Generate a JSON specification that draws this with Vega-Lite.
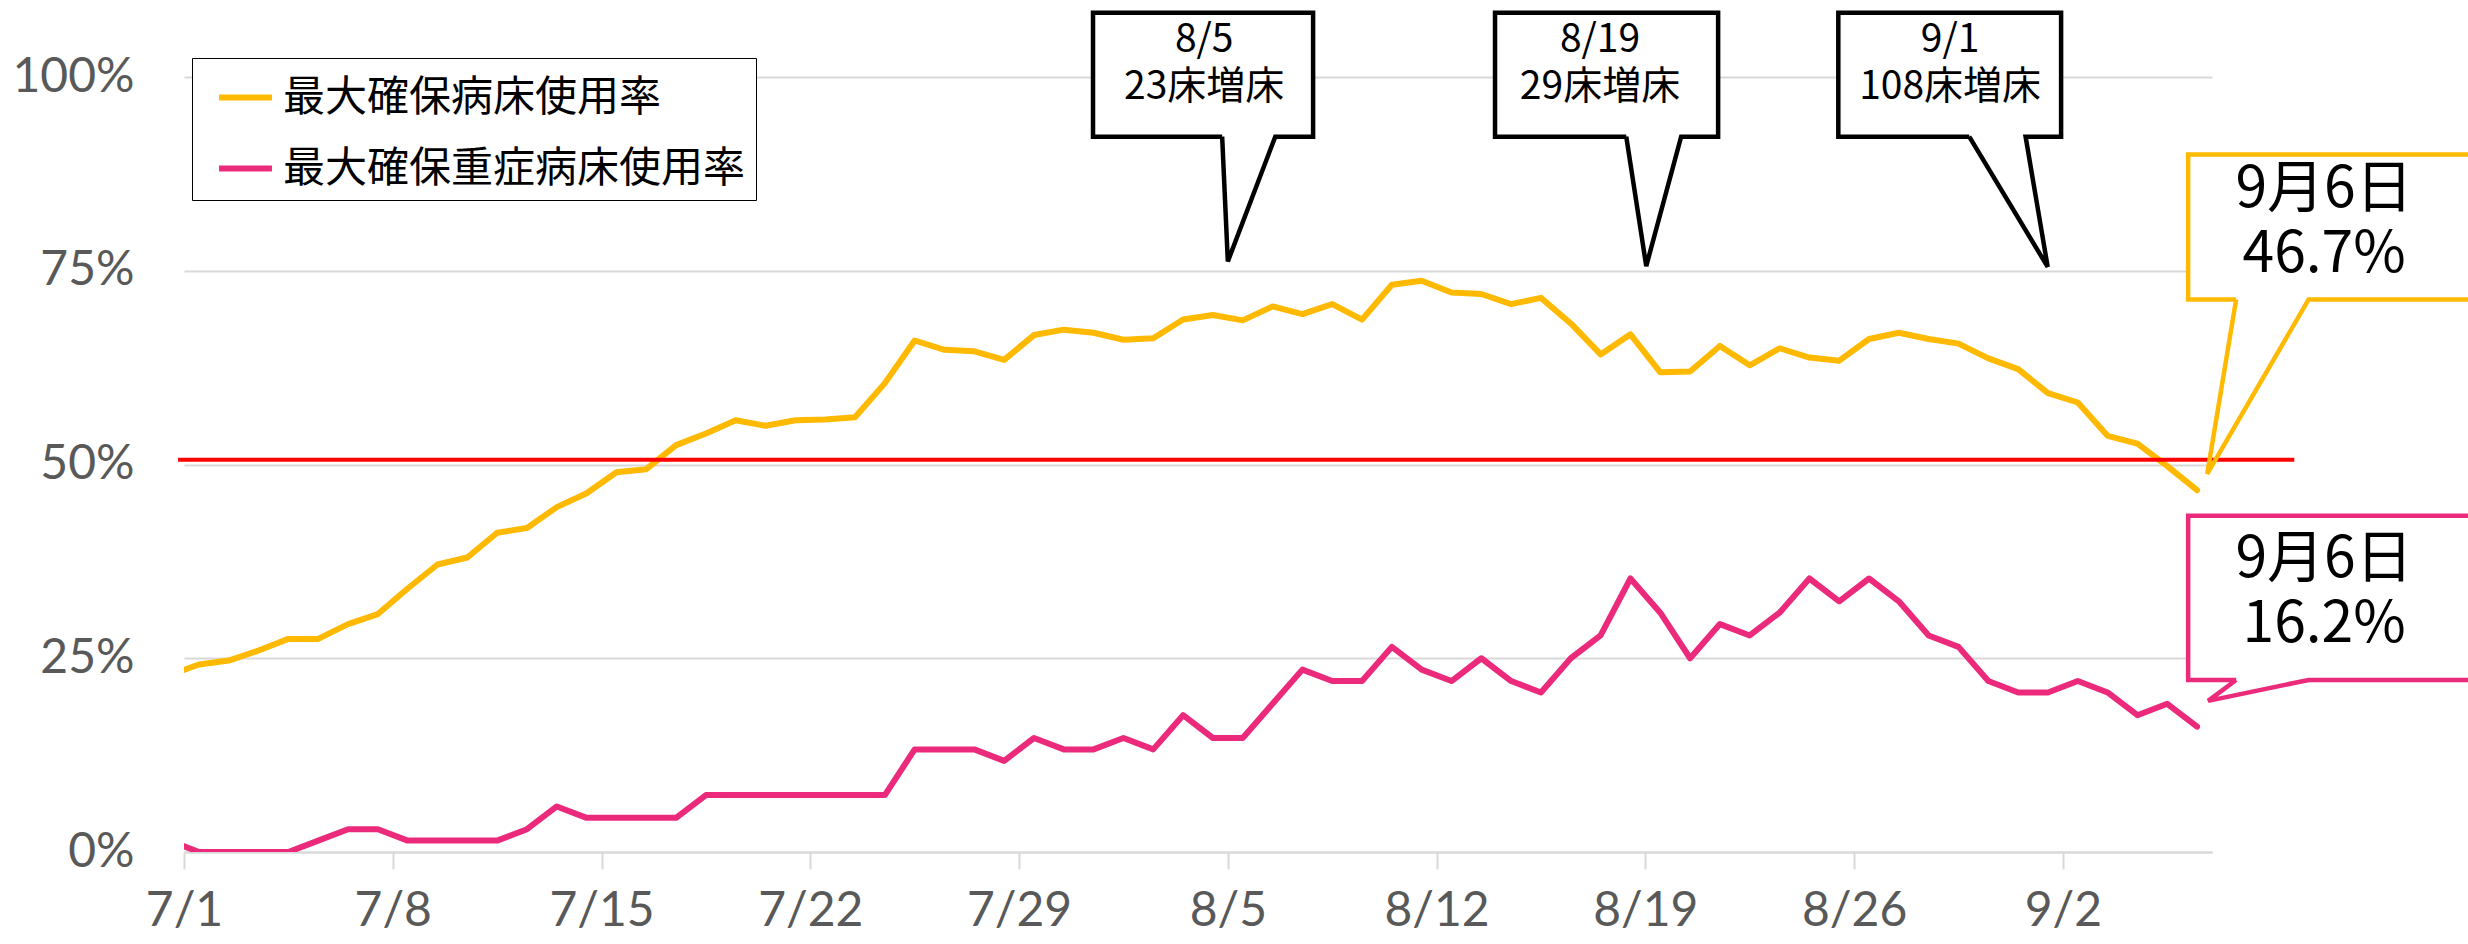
{
  "$schema": "https://vega.github.io/schema/vega-lite/v6.json",
  "width": 2028,
  "height": 775,
  "autosize": "none",
  "padding": {"left": 184, "top": 77, "right": 256, "bottom": 92},
  "background": "white",
  "config": {"view": {"stroke": null}, "font": "Lato"},
  "datasets": {
    "series": [
      {"date":"2021/06/30","a":22.8,"b":1.47},
      {"date":"2021/07/01","a":24.2,"b":0},
      {"date":"2021/07/02","a":24.7,"b":0},
      {"date":"2021/07/03","a":26.0,"b":0},
      {"date":"2021/07/04","a":27.5,"b":0},
      {"date":"2021/07/05","a":27.5,"b":1.47},
      {"date":"2021/07/06","a":29.4,"b":2.94},
      {"date":"2021/07/07","a":30.7,"b":2.94},
      {"date":"2021/07/08","a":34.0,"b":1.47},
      {"date":"2021/07/09","a":37.1,"b":1.47},
      {"date":"2021/07/10","a":38.0,"b":1.47},
      {"date":"2021/07/11","a":41.2,"b":1.47},
      {"date":"2021/07/12","a":41.8,"b":2.94},
      {"date":"2021/07/13","a":44.5,"b":5.88},
      {"date":"2021/07/14","a":46.3,"b":4.41},
      {"date":"2021/07/15","a":49.0,"b":4.41},
      {"date":"2021/07/16","a":49.4,"b":4.41},
      {"date":"2021/07/17","a":52.5,"b":4.41},
      {"date":"2021/07/18","a":54.0,"b":7.35},
      {"date":"2021/07/19","a":55.7,"b":7.35},
      {"date":"2021/07/20","a":55.0,"b":7.35},
      {"date":"2021/07/21","a":55.7,"b":7.35},
      {"date":"2021/07/22","a":55.8,"b":7.35},
      {"date":"2021/07/23","a":56.1,"b":7.35},
      {"date":"2021/07/24","a":60.5,"b":7.35},
      {"date":"2021/07/25","a":66.0,"b":13.24},
      {"date":"2021/07/26","a":64.8,"b":13.24},
      {"date":"2021/07/27","a":64.6,"b":13.24},
      {"date":"2021/07/28","a":63.5,"b":11.76},
      {"date":"2021/07/29","a":66.7,"b":14.71},
      {"date":"2021/07/30","a":67.4,"b":13.24},
      {"date":"2021/07/31","a":67.0,"b":13.24},
      {"date":"2021/08/01","a":66.1,"b":14.71},
      {"date":"2021/08/02","a":66.3,"b":13.24},
      {"date":"2021/08/03","a":68.7,"b":17.65},
      {"date":"2021/08/04","a":69.3,"b":14.71},
      {"date":"2021/08/05","a":68.6,"b":14.71},
      {"date":"2021/08/06","a":70.4,"b":19.12},
      {"date":"2021/08/07","a":69.4,"b":23.53},
      {"date":"2021/08/08","a":70.7,"b":22.06},
      {"date":"2021/08/09","a":68.7,"b":22.06},
      {"date":"2021/08/10","a":73.2,"b":26.47},
      {"date":"2021/08/11","a":73.7,"b":23.53},
      {"date":"2021/08/12","a":72.2,"b":22.06},
      {"date":"2021/08/13","a":72.0,"b":25.0},
      {"date":"2021/08/14","a":70.7,"b":22.06},
      {"date":"2021/08/15","a":71.5,"b":20.59},
      {"date":"2021/08/16","a":68.2,"b":25.0},
      {"date":"2021/08/17","a":64.2,"b":27.94},
      {"date":"2021/08/18","a":66.8,"b":35.29},
      {"date":"2021/08/19","a":61.9,"b":30.88},
      {"date":"2021/08/20","a":62.0,"b":25.0},
      {"date":"2021/08/21","a":65.3,"b":29.41},
      {"date":"2021/08/22","a":62.8,"b":27.94},
      {"date":"2021/08/23","a":65.0,"b":30.88},
      {"date":"2021/08/24","a":63.8,"b":35.29},
      {"date":"2021/08/25","a":63.4,"b":32.35},
      {"date":"2021/08/26","a":66.2,"b":35.29},
      {"date":"2021/08/27","a":67.0,"b":32.35},
      {"date":"2021/08/28","a":66.2,"b":27.94},
      {"date":"2021/08/29","a":65.6,"b":26.47},
      {"date":"2021/08/30","a":63.7,"b":22.06},
      {"date":"2021/08/31","a":62.3,"b":20.59},
      {"date":"2021/09/01","a":59.2,"b":20.59},
      {"date":"2021/09/02","a":58.0,"b":22.06},
      {"date":"2021/09/03","a":53.7,"b":20.59},
      {"date":"2021/09/04","a":52.7,"b":17.65},
      {"date":"2021/09/05","a":49.8,"b":19.12},
      {"date":"2021/09/06","a":46.7,"b":16.18}
    ],
    "threshold": [
      {"t1":"2021/06/30 19:12","t2":"2021/09/09 18:14","v":50.6}
    ],
    "boxes": [
      {"id":"a","t1":"2021/07/31 11:31","t2":"2021/08/07 20:38","v1":92.3,"v2":108.3},
      {"id":"b","t1":"2021/08/13 23:02","t2":"2021/08/21 10:34","v1":92.3,"v2":108.3},
      {"id":"c","t1":"2021/08/25 11:17","t2":"2021/09/01 22:34","v1":92.3,"v2":108.3},
      {"id":"d","t1":"2021/09/06 04:48","t2":"2021/09/18 00:00","v1":71.3,"v2":90.0},
      {"id":"e","t1":"2021/09/06 04:48","t2":"2021/09/18 00:00","v1":22.2,"v2":43.4}
    ],
    "outlines": [
      {"id":"a","kind":"note","seq":1,"t":"2021/08/04 19:26","v":92.3},
      {"id":"a","kind":"note","seq":2,"t":"2021/07/31 11:31","v":92.3},
      {"id":"a","kind":"note","seq":3,"t":"2021/07/31 11:31","v":108.3},
      {"id":"a","kind":"note","seq":4,"t":"2021/08/07 20:38","v":108.3},
      {"id":"a","kind":"note","seq":5,"t":"2021/08/07 20:38","v":92.3},
      {"id":"a","kind":"note","seq":6,"t":"2021/08/06 14:10","v":92.3},
      {"id":"a","kind":"note","seq":7,"t":"2021/08/05 00:00","v":76.2},
      {"id":"a","kind":"note","seq":8,"t":"2021/08/04 19:26","v":92.3},
      {"id":"b","kind":"note","seq":1,"t":"2021/08/18 08:38","v":92.3},
      {"id":"b","kind":"note","seq":2,"t":"2021/08/13 23:02","v":92.3},
      {"id":"b","kind":"note","seq":3,"t":"2021/08/13 23:02","v":108.3},
      {"id":"b","kind":"note","seq":4,"t":"2021/08/21 10:34","v":108.3},
      {"id":"b","kind":"note","seq":5,"t":"2021/08/21 10:34","v":92.3},
      {"id":"b","kind":"note","seq":6,"t":"2021/08/20 04:48","v":92.3},
      {"id":"b","kind":"note","seq":7,"t":"2021/08/19 00:43","v":75.6},
      {"id":"b","kind":"note","seq":8,"t":"2021/08/18 08:38","v":92.3},
      {"id":"c","kind":"note","seq":1,"t":"2021/08/29 20:38","v":92.3},
      {"id":"c","kind":"note","seq":2,"t":"2021/08/25 11:17","v":92.3},
      {"id":"c","kind":"note","seq":3,"t":"2021/08/25 11:17","v":108.3},
      {"id":"c","kind":"note","seq":4,"t":"2021/09/01 22:34","v":108.3},
      {"id":"c","kind":"note","seq":5,"t":"2021/09/01 22:34","v":92.3},
      {"id":"c","kind":"note","seq":6,"t":"2021/08/31 18:00","v":92.3},
      {"id":"c","kind":"note","seq":7,"t":"2021/09/01 11:46","v":75.5},
      {"id":"c","kind":"note","seq":8,"t":"2021/08/29 20:38","v":92.3},
      {"id":"d","kind":"bed","seq":1,"t":"2021/09/07 19:26","v":71.3},
      {"id":"d","kind":"bed","seq":2,"t":"2021/09/06 04:48","v":71.3},
      {"id":"d","kind":"bed","seq":3,"t":"2021/09/06 04:48","v":90.0},
      {"id":"d","kind":"bed","seq":4,"t":"2021/09/18 00:00","v":90.0},
      {"id":"d","kind":"bed","seq":5,"t":"2021/09/18 00:00","v":71.3},
      {"id":"d","kind":"bed","seq":6,"t":"2021/09/10 05:46","v":71.3},
      {"id":"d","kind":"bed","seq":7,"t":"2021/09/06 20:10","v":48.8},
      {"id":"d","kind":"bed","seq":8,"t":"2021/09/07 19:26","v":71.3},
      {"id":"e","kind":"icu","seq":1,"t":"2021/09/07 19:26","v":22.2},
      {"id":"e","kind":"icu","seq":2,"t":"2021/09/06 04:48","v":22.2},
      {"id":"e","kind":"icu","seq":3,"t":"2021/09/06 04:48","v":43.4},
      {"id":"e","kind":"icu","seq":4,"t":"2021/09/18 00:00","v":43.4},
      {"id":"e","kind":"icu","seq":5,"t":"2021/09/18 00:00","v":22.2},
      {"id":"e","kind":"icu","seq":6,"t":"2021/09/10 05:46","v":22.2},
      {"id":"e","kind":"icu","seq":7,"t":"2021/09/06 20:53","v":19.5},
      {"id":"e","kind":"icu","seq":8,"t":"2021/09/07 19:26","v":22.2}
    ],
    "labels": [
      {"kind":"note","t":"2021/08/04 05:00","v":104.8,"text":"8/5\n23床増床"},
      {"kind":"note","t":"2021/08/17 11:30","v":104.8,"text":"8/19\n29床増床"},
      {"kind":"note","t":"2021/08/29 05:17","v":104.8,"text":"9/1\n108床増床"},
      {"kind":"big","t":"2021/09/10 18:14","v":85.4,"text":"9月6日\n46.7%"},
      {"kind":"big","t":"2021/09/10 18:14","v":37.7,"text":"9月6日\n16.2%"}
    ]
  },
  "layer": [
    {
      "data": {"name": "series"},
      "transform": [{"fold": ["a", "b"], "as": ["series", "value"]}],
      "mark": {"type": "line", "strokeWidth": 6, "clip": true, "strokeJoin": "round", "strokeCap": "round"},
      "encoding": {
        "x": {
          "field": "date", "type": "temporal", "timeUnit": "yearmonthdate", "bandPosition": 0.5, "title": null,
          "scale": {"domain": [{"year": 2021, "month": 7, "date": 1}, {"year": 2021, "month": 9, "date": 7}]},
          "axis": {
            "values": [
              {"year": 2021, "month": 7, "date": 1}, {"year": 2021, "month": 7, "date": 8},
              {"year": 2021, "month": 7, "date": 15}, {"year": 2021, "month": 7, "date": 22},
              {"year": 2021, "month": 7, "date": 29}, {"year": 2021, "month": 8, "date": 5},
              {"year": 2021, "month": 8, "date": 12}, {"year": 2021, "month": 8, "date": 19},
              {"year": 2021, "month": 8, "date": 26}, {"year": 2021, "month": 9, "date": 2}
            ],
            "format": "%-m/%-d", "labelFontSize": 48, "labelColor": "#595959", "labelFont": "Lato",
            "labelPadding": 18, "tickSize": 17, "tickColor": "#D9D9D9", "tickWidth": 2,
            "domainColor": "#D9D9D9", "domainWidth": 2, "grid": false, "labelFlush": false, "labelOverlap": false
          }
        },
        "y": {
          "field": "value", "type": "quantitative", "title": null,
          "scale": {"domain": [0, 100]},
          "axis": {
            "values": [0, 25, 50, 75, 100], "labelExpr": "datum.value + '%'",
            "labelFontSize": 48, "labelColor": "#595959", "labelFont": "Lato", "labelPadding": 50,
            "ticks": false, "domain": false, "grid": true, "gridColor": "#D9D9D9", "gridWidth": 2
          }
        },
        "color": {
          "field": "series", "type": "nominal",
          "scale": {"domain": ["a", "b"], "range": ["#FFB900", "#EB2A7B"]},
          "legend": {
            "title": null, "orient": "none", "legendX": 8, "legendY": -19,
            "labelExpr": "datum.label == 'a' ? '最大確保病床使用率' : '最大確保重症病床使用率'",
            "strokeColor": "#000000", "fillColor": "#FFFFFF", "padding": 10,
            "symbolType": "stroke", "symbolSize": 2800, "symbolStrokeWidth": 6,
            "symbolOffset": 14, "labelOffset": 8,
            "labelFont": "Noto Sans CJK JP", "labelFontSize": 42, "labelColor": "#000000",
            "rowPadding": 20, "labelLimit": 1000
          }
        }
      }
    },
    {
      "data": {"name": "threshold"},
      "mark": {"type": "rule", "color": "#FF0000", "strokeWidth": 4},
      "encoding": {
        "x": {"field": "t1", "type": "temporal", "title": null},
        "x2": {"field": "t2"},
        "y": {"field": "v", "type": "quantitative", "title": null}
      }
    },
    {
      "data": {"name": "boxes"},
      "mark": {"type": "rect", "fill": "#FFFFFF", "stroke": null},
      "encoding": {
        "x": {"field": "t1", "type": "temporal", "title": null},
        "x2": {"field": "t2"},
        "y": {"field": "v1", "type": "quantitative", "title": null},
        "y2": {"field": "v2"}
      }
    },
    {
      "data": {"name": "outlines"},
      "mark": {"type": "line", "strokeWidth": 4.5, "strokeJoin": "miter"},
      "encoding": {
        "x": {"field": "t", "type": "temporal", "title": null},
        "y": {"field": "v", "type": "quantitative", "title": null},
        "detail": {"field": "id"},
        "order": {"field": "seq", "type": "quantitative"},
        "stroke": {
          "field": "kind", "type": "nominal", "legend": null,
          "scale": {"domain": ["note", "bed", "icu"], "range": ["#000000", "#FFB900", "#EB2A7B"]}
        }
      }
    },
    {
      "data": {"name": "labels"},
      "transform": [{"filter": "datum.kind == 'note'"}],
      "mark": {"type": "text", "font": "Noto Sans CJK JP", "fontSize": 39, "lineBreak": "\n", "lineHeight": 47, "align": "center", "baseline": "middle", "color": "#000000"},
      "encoding": {
        "x": {"field": "t", "type": "temporal", "title": null},
        "y": {"field": "v", "type": "quantitative", "title": null},
        "text": {"field": "text"}
      }
    },
    {
      "data": {"name": "labels"},
      "transform": [{"filter": "datum.kind == 'big'"}],
      "mark": {"type": "text", "font": "Noto Sans CJK JP", "fontSize": 57, "lineBreak": "\n", "lineHeight": 65, "align": "center", "baseline": "middle", "color": "#000000"},
      "encoding": {
        "x": {"field": "t", "type": "temporal", "title": null},
        "y": {"field": "v", "type": "quantitative", "title": null},
        "text": {"field": "text"}
      }
    }
  ]
}
